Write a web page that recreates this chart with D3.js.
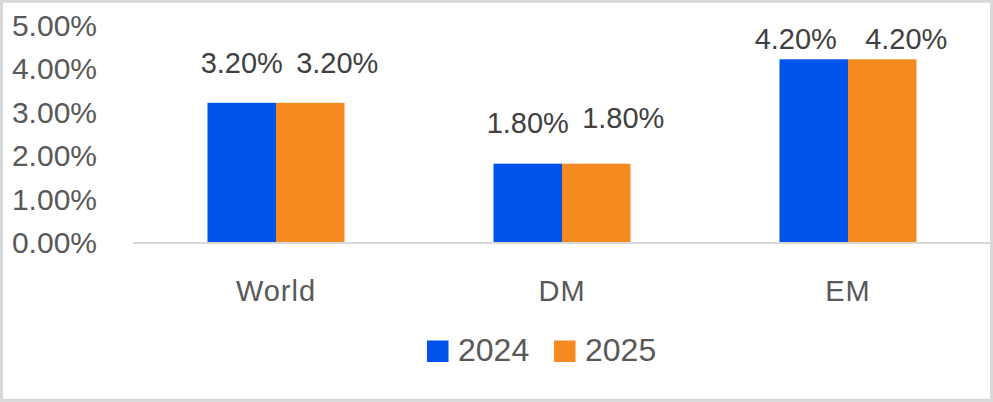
<!DOCTYPE html>
<html><head><meta charset="utf-8">
<script src="https://cdn.jsdelivr.net/npm/d3@7"></script>
<style>body{margin:0;background:#fff}svg{display:block;font-family:"Liberation Sans",Arial,sans-serif}</style>
</head><body><svg id="c" width="993" height="402"></svg>
<script>
const categories = ["World", "DM", "EM"];
const seriesNames = ["2024", "2025"];
const values2024 = [3.2, 1.8, 4.2];
const values2025 = [3.2, 1.8, 4.2];
const yTicks = [0, 1, 2, 3, 4, 5];
const colors = ["#0052ea", "#f58b20"];

// label layout nudges (dx from bar centre, dy above bar top), like Excel's manual label placement
const labelNudge = [
  [[0, 30], [27, 30]],
  [[0, 31], [27, 36]],
  [[-18, 10], [24, 10]]
];

const series = [values2024, values2025];
const svg = d3.select("#c");

svg.append("rect").attr("x",1.5).attr("y",1.3).attr("width",990).attr("height",399)
  .attr("fill","#fff").attr("stroke","#d9d9d9").attr("stroke-width",3);

const y = d3.scaleLinear().domain([0,5]).range([242, 24.5]);
const x0 = d3.scaleBand().domain(categories).range([133, 991]).padding(0);
const groupW = x0.bandwidth()*0.479;
const x1 = d3.scaleBand().domain(seriesNames).range([0, groupW]).padding(0);

// y axis labels
const yAxis = d3.axisLeft(y).tickValues(yTicks).tickFormat(d => d.toFixed(2)+"%").tickSize(0).tickPadding(0);
const ya = svg.append("g").attr("transform","translate(97,0)").call(yAxis);
ya.select(".domain").remove();
ya.selectAll("text").attr("font-size",30).attr("fill","#595959").attr("font-family","Liberation Sans, Arial, sans-serif").attr("dy","0.35em");

// bars
seriesNames.forEach((s, si) => {
  svg.append("g").selectAll("rect").data(categories).join("rect")
    .attr("x", c => x0(c) + (x0.bandwidth()-groupW)/2 + x1(s))
    .attr("y", (c,i) => y(series[si][i]))
    .attr("width", x1.bandwidth())
    .attr("height", (c,i) => y(0) - y(series[si][i]))
    .attr("fill", colors[si]);
});

// x axis
const xAxis = d3.axisBottom(x0).tickSize(0).tickPadding(0);
const xa = svg.append("g").attr("transform","translate(0,243)").call(xAxis);
xa.select(".domain").remove();
svg.append("line").attr("x1",133).attr("x2",990).attr("y1",243).attr("y2",243)
  .attr("stroke","#d9d9d9").attr("stroke-width",2);
xa.selectAll("text").attr("font-size",29).attr("letter-spacing",1).attr("fill","#595959").attr("font-family","Liberation Sans, Arial, sans-serif")
  .attr("y",58).attr("dy",0);

// data labels
seriesNames.forEach((s, si) => {
  svg.append("g").selectAll("text").data(categories).join("text")
    .attr("x", (c,i) => x0(c) + (x0.bandwidth()-groupW)/2 + x1(s) + x1.bandwidth()/2 + labelNudge[i][si][0])
    .attr("y", (c,i) => y(series[si][i]) - labelNudge[i][si][1])
    .attr("text-anchor","middle").attr("font-size",29).attr("fill","#404040")
    .text((c,i) => series[si][i].toFixed(2)+"%");
});

// legend
const lg = svg.append("g");
const legendX = [427, 554];
seriesNames.forEach((s, si) => {
  lg.append("rect").attr("x",legendX[si]).attr("y",340.5).attr("width",21.5).attr("height",21.5).attr("fill",colors[si]);
  lg.append("text").attr("x",legendX[si]+31).attr("y",361).attr("font-size",32).attr("fill","#595959").text(s);
});
</script></body></html>
